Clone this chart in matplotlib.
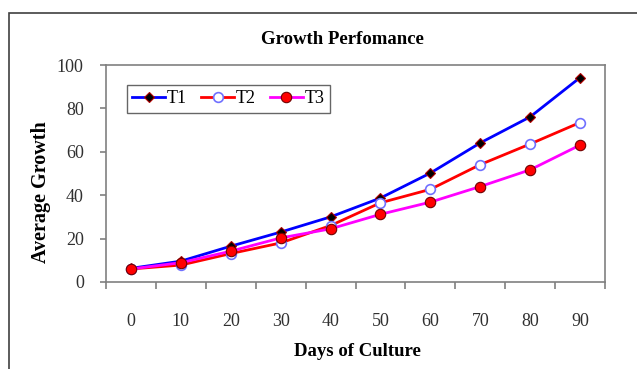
import matplotlib
matplotlib.use("Agg")
import matplotlib.pyplot as plt
from matplotlib.patches import Rectangle

# Growth measurements per treatment
days = ["0", "10", "20", "30", "40", "50", "60", "70", "80", "90"]
t1 = [6.3, 9.6, 16.5, 23.0, 30.0, 38.7, 50.2, 64.1, 76.1, 94.2]
t2 = [6.0, 7.8, 13.1, 18.0, 26.0, 36.5, 42.7, 54.1, 63.6, 73.5]
t3 = [6.0, 8.9, 14.2, 20.3, 24.5, 31.2, 36.8, 44.0, 51.7, 63.1]

plt.rcParams["font.family"] = ["Liberation Serif", "DejaVu Serif"]

W, H = 637, 369
fig = plt.figure(figsize=(W / 100, H / 100), dpi=100)
ax = fig.add_axes([106 / W, 1 - 282 / H, (605 - 106) / W, (282 - 65) / H])

# outer chart border (runs off the right and bottom edges)
fig.patches.append(Rectangle((9 / W, -0.1), 1.2, 1 - 12.5 / H + 0.1,
                             transform=fig.transFigure, fill=False,
                             edgecolor="#404040", linewidth=1.2))

x = range(len(days))
ax.plot(x, t1, color="#0000ff", linewidth=2, marker="D", markersize=5.5,
        markerfacecolor="black", markeredgecolor="#b00000",
        markeredgewidth=0.8, label="T1")
ax.plot(x, t2, color="#ff0000", linewidth=2, marker="o", markersize=7,
        markerfacecolor="white", markeredgecolor="#7070ff",
        markeredgewidth=1.2, label="T2")
ax.plot(x, t3, color="#ff00ff", linewidth=2, marker="o", markersize=7.5,
        markerfacecolor="#ff0000", markeredgecolor="#700000",
        markeredgewidth=0.8, label="T3")

ax.set_xlim(-0.5, len(days) - 0.5)
ax.set_ylim(0, 100)
ax.set_yticks(range(0, 101, 20))
ax.set_xticks(x)
ax.set_xticklabels(days)
ax.set_xticks([i + 0.5 for i in range(-1, len(days))], minor=True)

for s in ax.spines.values():
    s.set_color("#808080")
    s.set_linewidth(1.2)

ax.tick_params(axis="x", which="major", length=0, pad=22, labelsize=13,
               labelcolor="#303030")
ax.tick_params(axis="x", which="minor", length=5, color="#808080", width=1.2)
ax.tick_params(axis="y", length=4, color="#808080", width=1.2, pad=12,
               labelsize=13, labelcolor="#303030")

fig.text(342 / W, 1 - 40 / H, "Growth Perfomance", ha="center", va="center",
         fontsize=13.5, fontweight="bold")
fig.text(357 / W, 1 - 352 / H, "Days of Culture", ha="center", va="center",
         fontsize=13.5, fontweight="bold")
fig.text(41 / W, 1 - 192 / H, "Average Growth", ha="center", va="center",
         rotation=90, fontsize=14.5, fontweight="bold")

leg = ax.legend(loc="upper left", bbox_to_anchor=(127 / W, 1 - 85 / H),
                bbox_transform=fig.transFigure, ncol=3, fontsize=13,
                frameon=True, fancybox=False, borderaxespad=0,
                handlelength=1.8, handletextpad=0.1, columnspacing=0.8,
                borderpad=0.3)
leg.get_frame().set_edgecolor("#404040")
leg.get_frame().set_linewidth(1.0)

fig.savefig("out.png", dpi=100)
